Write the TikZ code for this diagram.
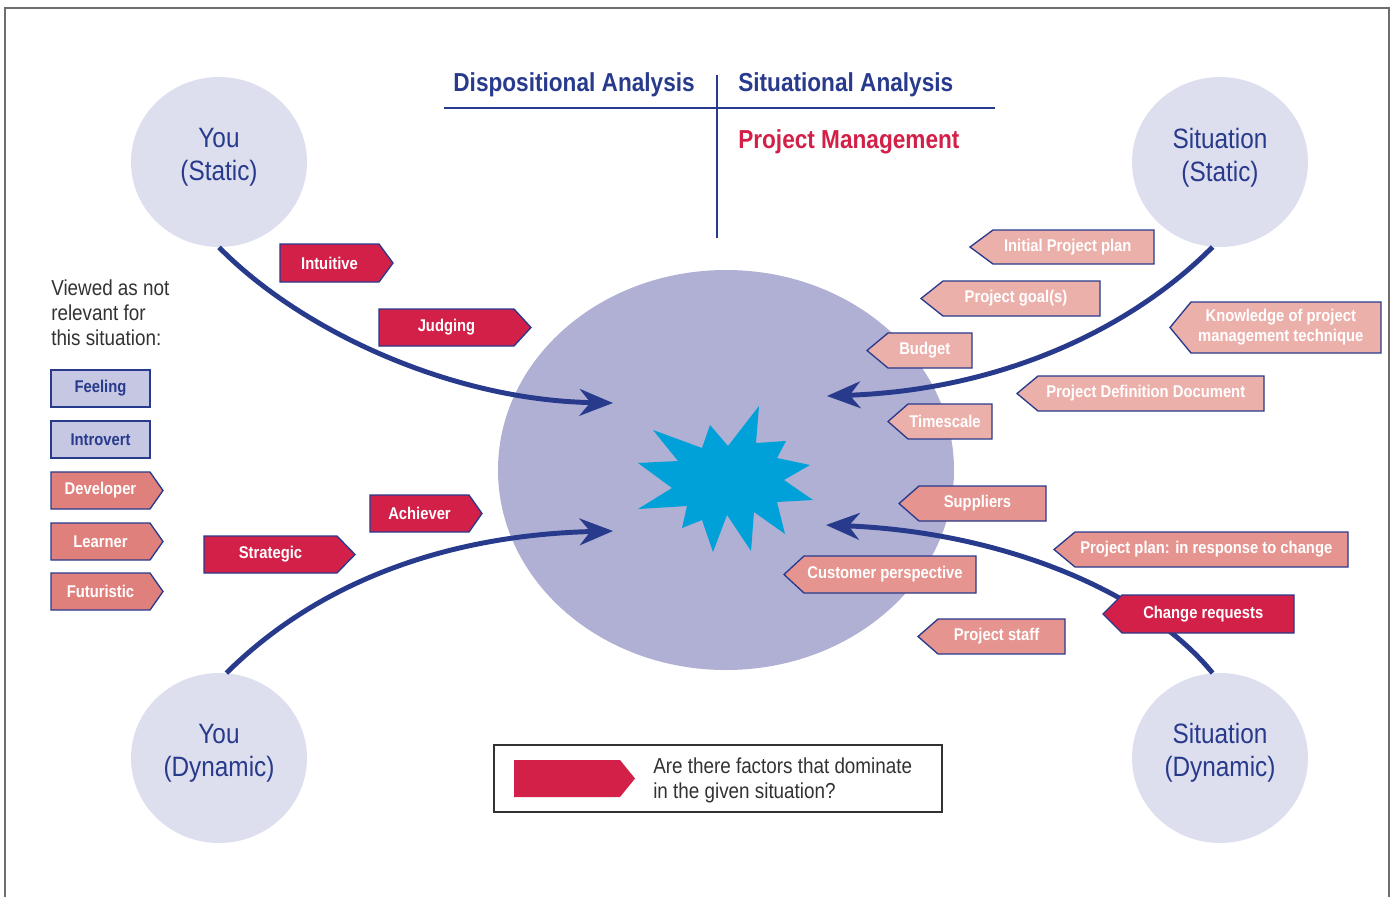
\documentclass[tikz,border=0pt]{standalone}
\usepackage{fontspec}
\setmainfont{Liberation Sans}[FakeStretch=0.87]
\usetikzlibrary{arrows.meta,shapes.geometric}
\definecolor{dblue}{RGB}{40,58,140}
\definecolor{dred}{RGB}{210,32,72}
\definecolor{lcirc}{RGB}{222,223,238}
\definecolor{coreclr}{RGB}{175,176,212}
\definecolor{starc}{RGB}{0,160,216}
\definecolor{salA}{RGB}{224,128,125}
\definecolor{salB}{RGB}{229,148,143}
\definecolor{salC}{RGB}{236,176,171}
\definecolor{lav}{RGB}{198,199,227}
\definecolor{framec}{RGB}{110,110,110}
\definecolor{txtc}{RGB}{50,50,50}
\tikzset{
  boxline/.style={draw=dblue, line width=1pt, line join=miter},
  redbox/.style={boxline, fill=dred},
  salAbox/.style={boxline, fill=salA},
  salBbox/.style={boxline, fill=salB},
  salCbox/.style={boxline, fill=salC},
  lavbox/.style={boxline, fill=lav},
  lbl/.style={text=white, font=\bfseries\fontsize{12.75pt}{15pt}\selectfont, inner sep=0pt, align=center},
  bluelbl/.style={lbl, text=dblue},
  flow/.style={draw=dblue, line width=3.7pt, -{Stealth[length=25pt,width=20pt,inset=8pt]}},
  circ/.style={ellipse, fill=lcirc, minimum width=132pt, minimum height=127.5pt, inner sep=0pt},
  circtxt/.style={text=dblue, font=\fontsize{21pt}{24.75pt}\selectfont, align=center, inner sep=0pt},
  head/.style={font=\bfseries\fontsize{19.5pt}{23pt}\selectfont, inner sep=0pt},
  plain/.style={text=txtc, font=\fontsize{16.25pt}{18.75pt}\selectfont, align=left, inner sep=0pt},
}
% right-pointing box: style, name, x1, y1, x2, y2, tip x, text
\newcommand{\boxR}[8]{%
  \draw[#1] (#3,#4) -- (#5,#4) -- (#7,{(#4+#6)/2}) -- (#5,#6) -- (#3,#6) -- cycle;
  \node[lbl] (#2) at ({(#3+#5)/2},{(#4+#6)/2}) {#8};
}
% left-pointing box: style, name, x1 (rect left), y1, x2 (rect right), y2, tip x, text
\newcommand{\boxL}[8]{%
  \draw[#1] (#5,#4) -- (#3,#4) -- (#7,{(#4+#6)/2}) -- (#3,#6) -- (#5,#6) -- cycle;
  \node[lbl] (#2) at ({(#3+#5)/2-(#3-#7)/4},{(#4+#6)/2}) {#8};
}
\begin{document}
\begin{tikzpicture}[x=0.75pt, y=-0.75pt]
\useasboundingbox (0,0) rectangle (1395,897);
% frame
\draw[framec, line width=1.2pt] (5,897) -- (5,8) -- (1389,8) -- (1389,897);
% headings
\node[head, text=dblue, anchor=base east] (disp) at (695,91) {Dispositional Analysis};
\node[head, text=dblue, anchor=base west] (situ) at (738,91) {Situational Analysis};
\node[head, text=dred, anchor=base west] (pm) at (738,148) {Project Management};
\draw[dblue, line width=1.5pt] (444,108) -- (995,108);
\draw[dblue, line width=1.5pt] (717,75) -- (717,238);
% corner circles
\node[circ] (ys) at (219,162) {};
\node[circ] (ss) at (1220,162) {};
\node[circ] (yd) at (219,758) {};
\node[circ] (sd) at (1220,758) {};
\node[circtxt] (yst) at (219,157.5) {You\\(Static)};
\node[circtxt] (sst) at (1220,157.5) {Situation\\(Static)};
\node[circtxt] (ydt) at (219,753) {You\\(Dynamic)};
\node[circtxt] (sdt) at (1220,753) {Situation\\(Dynamic)};
% central ellipse
\node[ellipse, fill=coreclr, minimum width=342pt, minimum height=300pt, inner sep=0pt] (core) at (726,470) {};
% star
\fill[starc] (653,430) -- (702,448) -- (710,425) -- (728,446) -- (759,406) -- (756,443)
  -- (786,441) -- (777,458) -- (810,465) -- (784,480) -- (813,500) -- (777,502)
  -- (785,534) -- (754,512) -- (751,551) -- (727,515) -- (713,552) -- (702,520)
  -- (682,528) -- (687,506) -- (638,509) -- (672,488) -- (638,463) -- (678,461) -- cycle;
% arrow end points
\coordinate (e1) at (613,403);
\coordinate (e2) at (613,531);
\coordinate (e3) at (827,396);
\coordinate (e4) at (826,525);
% arrows
\draw[flow] (ys.south) .. controls (300,330) and (450,400) .. (e1);
\draw[flow] (yd.85) .. controls (320,580) and (450,535) .. (e2);
\draw[flow] (ss.-95) .. controls (1130,330) and (1000,390) .. (e3);
\draw[flow] (sd.95) .. controls (1145,590) and (1000,532) .. (e4);
% left text
\node[plain, anchor=west] (viewed) at (51,313) {Viewed as not\\relevant for\\this situation:};
% left boxes
\draw[lavbox] (51,370) rectangle (150,407);
\node[bluelbl] (feel) at (100.5,388.5) {Feeling};
\draw[lavbox] (51,421) rectangle (150,458);
\node[bluelbl] (intro) at (100.5,439.5) {Introvert};
\boxR{salAbox}{dev}{51}{472}{150}{509}{163}{Developer}
\boxR{salAbox}{learn}{51}{523}{150}{560}{163}{Learner}
\boxR{salAbox}{fut}{51}{573}{150}{610}{163}{Futuristic}
% red right-pointing boxes
\boxR{redbox}{intu}{280}{244}{379}{282}{393}{Intuitive}
\boxR{redbox}{judg}{379}{309}{514}{346}{531}{Judging}
\boxR{redbox}{strat}{204}{536}{337}{573}{355}{Strategic}
\boxR{redbox}{ach}{370}{495}{469}{532}{482}{Achiever}
% right side boxes
\boxL{salCbox}{ipp}{993}{230}{1154}{264}{970}{Initial Project plan}
\boxL{salCbox}{goal}{943}{281}{1100}{316}{921}{Project goal(s)}
\boxL{salCbox}{budg}{888}{333}{972}{368}{867}{Budget}
\boxL{salCbox}{know}{1191}{302}{1381}{353}{1170}{Knowledge of project\\management technique}
\boxL{salCbox}{pdd}{1038}{376}{1264}{411}{1017}{Project Definition Document}
\boxL{salCbox}{time}{908}{404}{992}{439}{888}{Timescale}
\boxL{salBbox}{supp}{919}{486}{1046}{521}{899}{Suppliers}
\boxL{salBbox}{ppl}{1075}{532}{1348}{567}{1054}{Project plan: in response to change}
\boxL{salBbox}{cust}{804}{556}{976}{593}{784}{Customer perspective}
\boxL{salBbox}{staff}{938}{619}{1065}{654}{918}{Project staff}
\boxL{redbox}{chg}{1122}{595}{1294}{633}{1103}{Change requests}
% legend
\draw[draw=txtc, line width=0.8pt] (494,745) rectangle (942,812);
\fill[dred] (514,760) -- (620,760) -- (635,778.5) -- (620,797) -- (514,797) -- cycle;
\node[plain, anchor=west] (legtxt) at (653,780.5) {Are there factors that dominate\\in the given situation?};
\end{tikzpicture}
\end{document}
